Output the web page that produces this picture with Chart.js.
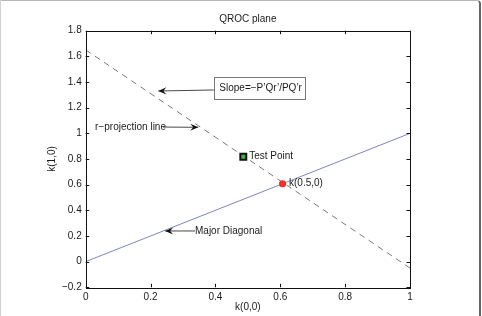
<!DOCTYPE html>
<html><head><meta charset="utf-8">
<script src="https://cdn.jsdelivr.net/npm/chart.js@4/dist/chart.umd.min.js"></script>
<style>
html,body{margin:0;padding:0;background:#fff;}
#wrap{position:relative;width:482px;height:316px;}
#frame{position:absolute;left:0;top:0;width:478px;height:330px;border-top:1px solid #b8b8b8;border-left:1px solid #d0d0d0;border-right:2px solid #666;border-top-right-radius:4px;pointer-events:none;}
canvas{position:absolute;left:0;top:0;}
</style></head>
<body>
<div id="wrap"><canvas id="c" width="482" height="316"></canvas><div id="frame"></div></div>
<script>
// ---- data ----
const xTicks = [0, 0.2, 0.4, 0.6, 0.8, 1];
const yTicks = [-0.2, 0, 0.2, 0.4, 0.6, 0.8, 1, 1.2, 1.4, 1.6, 1.8];
const diagonalX = [0, 1];
const diagonalY = [0, 1];
const projectionX = [0, 1];
const projectionY = [1.65, -0.05];
const testPointX = [0.486];
const testPointY = [0.818];
const operatingX = [0.607];
const operatingY = [0.607];
const titleText = 'QROC plane';
const xTitle = 'k(0,0)';
const yTitle = 'k(1,0)';

// annotation anchors (data units)
const notes = [
  {text: 'Test Point', x: 0.504, y: 0.818},
  {text: 'k(0.5,0)', x: 0.627, y: 0.611}
];
const arrows = [
  {text: 'Slope=\u2212P\u2019Qr\u2019/PQ\u2019r', box: [0.395, 1.436, 0.677, 1.268], tx: 0.412, ty: 1.350, from: [0.395, 1.338], to: [0.224, 1.330]},
  {text: 'r\u2212projection line', tx: 0.029, ty: 1.049, from: [0.238, 1.049], to: [0.347, 1.047]},
  {text: 'Major Diagonal', tx: 0.337, ty: 0.239, from: [0.337, 0.239], to: [0.245, 0.239]}
];

const FONT = '"Liberation Sans", Arial, Helvetica, sans-serif';
const TXT = '#1a1a1a';
const fmt = v => { let s = (Math.round(v * 10) / 10).toString(); return s.replace('-', '\u2212'); };
const pts = (xs, ys) => xs.map((x, i) => ({x, y: ys[i]}));

function arrowHead(ctx, x1, y1, x2, y2) {
  const a = Math.atan2(y2 - y1, x2 - x1);
  const L = 8, W = 3.6, I = 5;
  ctx.save();
  ctx.translate(x2, y2); ctx.rotate(a);
  ctx.beginPath();
  ctx.moveTo(0, 0);
  ctx.lineTo(-L, -W);
  ctx.lineTo(-I, 0);
  ctx.lineTo(-L, W);
  ctx.closePath();
  ctx.fill();
  ctx.restore();
}

const overlay = {
  id: 'overlay',
  afterDatasetsDraw(chart) {
    const {ctx, chartArea: a, scales: {x, y}} = chart;
    ctx.save();
    // box
    ctx.strokeStyle = '#111'; ctx.lineWidth = 1;
    ctx.strokeRect(Math.round(a.left) + 0.5, Math.round(a.top) + 0.5, Math.round(a.right - a.left), Math.round(a.bottom - a.top));
    // inward ticks
    const tl = 3.5;
    ctx.beginPath();
    x.ticks.forEach(t => {
      const px = Math.round(x.getPixelForValue(t.value)) + 0.5;
      ctx.moveTo(px, a.bottom); ctx.lineTo(px, a.bottom - tl);
      ctx.moveTo(px, a.top); ctx.lineTo(px, a.top + tl);
    });
    y.ticks.forEach(t => {
      const py = Math.round(y.getPixelForValue(t.value)) + 0.5;
      ctx.moveTo(a.left, py); ctx.lineTo(a.left + tl, py);
      ctx.moveTo(a.right, py); ctx.lineTo(a.right - tl, py);
    });
    ctx.stroke();
    // texts
    ctx.font = '10px ' + FONT;
    ctx.fillStyle = TXT; ctx.textBaseline = 'middle'; ctx.textAlign = 'left';
    notes.forEach(n => ctx.fillText(n.text, x.getPixelForValue(n.x), y.getPixelForValue(n.y)));
    arrows.forEach(ar => {
      if (ar.box) {
        const x0 = Math.round(x.getPixelForValue(ar.box[0])) + 0.5, y0 = Math.round(y.getPixelForValue(ar.box[1])) + 0.5;
        const x1 = Math.round(x.getPixelForValue(ar.box[2])) + 0.5, y1 = Math.round(y.getPixelForValue(ar.box[3])) + 0.5;
        ctx.fillStyle = '#fff'; ctx.fillRect(x0, y0, x1 - x0, y1 - y0);
        ctx.strokeStyle = '#777'; ctx.lineWidth = 1; ctx.strokeRect(x0, y0, x1 - x0, y1 - y0);
      }
      ctx.fillStyle = TXT;
      ctx.fillText(ar.text, x.getPixelForValue(ar.tx), y.getPixelForValue(ar.ty));
      const fx = x.getPixelForValue(ar.from[0]), fy = y.getPixelForValue(ar.from[1]);
      const tx = x.getPixelForValue(ar.to[0]), ty = y.getPixelForValue(ar.to[1]);
      ctx.strokeStyle = '#333'; ctx.lineWidth = 0.9;
      ctx.beginPath(); ctx.moveTo(fx, fy); ctx.lineTo(tx, ty); ctx.stroke();
      ctx.fillStyle = '#111';
      arrowHead(ctx, fx, fy, tx, ty);
    });
    ctx.restore();
  }
};

new Chart(document.getElementById('c'), {
  type: 'scatter',
  data: {
    datasets: [
      {data: pts(diagonalX, diagonalY), showLine: true, borderColor: '#6f78b8', borderWidth: 0.9, pointRadius: 0, order: 3},
      {data: pts(projectionX, projectionY), showLine: true, borderColor: '#555', borderWidth: 0.8, borderDash: [6, 5], pointRadius: 0, order: 2},
      {data: pts(operatingX, operatingY), pointRadius: 3.6, backgroundColor: '#ee3124', borderWidth: 0, order: 1},
      {data: pts(testPointX, testPointY), pointStyle: 'rect', pointRadius: 4.2, backgroundColor: '#39b54a', borderColor: '#111', borderWidth: 2, order: 0}
    ]
  },
  options: {
    responsive: false, animation: false, events: [],
    layout: {padding: {left: 0, right: 72, top: 0, bottom: 0}},
    plugins: {
      legend: {display: false}, tooltip: {enabled: false},
      title: {display: true, text: titleText, fullSize: false, color: TXT, font: {family: FONT, size: 10, weight: 'normal'}, padding: {top: 13, bottom: 5.7}}
    },
    scales: {
      x: {
        type: 'linear', min: 0, max: 1,
        afterBuildTicks: s => { s.ticks = xTicks.map(v => ({value: v})); },
        afterFit: s => { s.height = 28.7; },
        grid: {display: false, drawTicks: false},
        border: {display: false},
        ticks: {color: TXT, font: {family: FONT, size: 10}, padding: 4, maxRotation: 0, callback: v => fmt(v)},
        title: {display: true, text: xTitle, color: TXT, font: {family: FONT, size: 10}, padding: {top: 0, bottom: 3}}
      },
      y: {
        type: 'linear', min: -0.2, max: 1.8,
        afterBuildTicks: s => { s.ticks = yTicks.map(v => ({value: v})); },
        afterFit: s => { s.width = 85.7; },
        grid: {display: false, drawTicks: false},
        border: {display: false},
        ticks: {color: TXT, font: {family: FONT, size: 10}, padding: 4, callback: v => fmt(v)},
        title: {display: true, text: yTitle, color: TXT, font: {family: FONT, size: 10}, padding: {top: 46, bottom: 0}}
      }
    }
  },
  plugins: [overlay]
});
</script>
</body></html>
